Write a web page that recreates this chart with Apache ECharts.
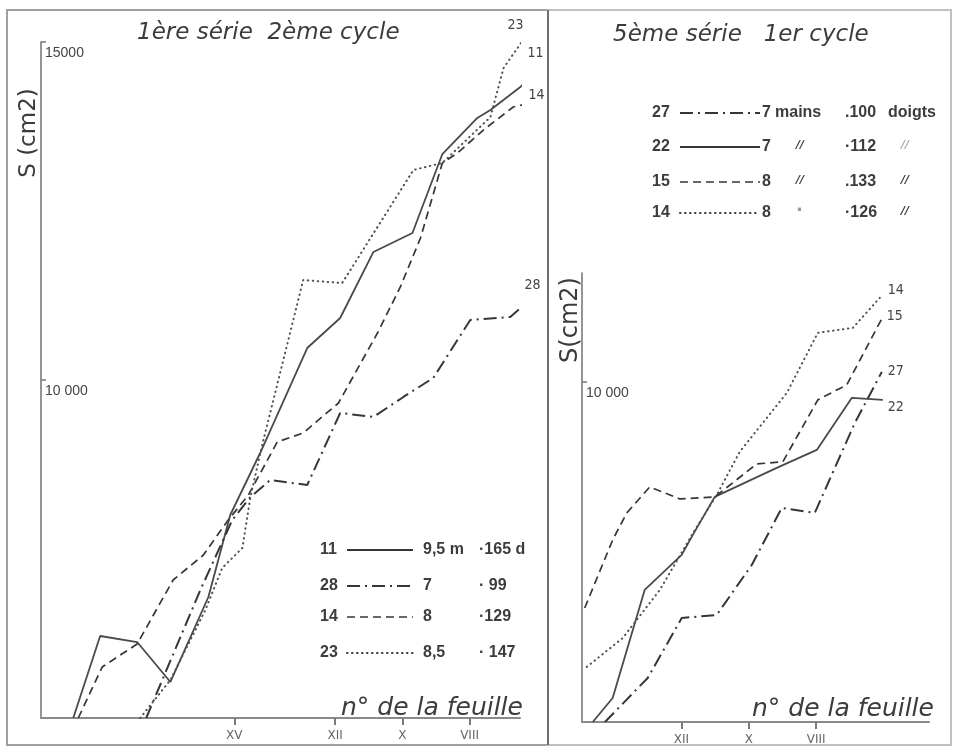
<!DOCTYPE html>
<html><head><meta charset="utf-8">
<script src="https://cdn.jsdelivr.net/npm/echarts@6/dist/echarts.min.js"></script>
<style>html,body{margin:0;padding:0;background:#fff}#c{width:954px;height:750px}</style>
</head><body><div id="c"></div>
<script>
// ---- DATA (x = n° de la feuille, y = S in cm2) ----
// Left panel: 1ère série 2ème cycle
const leftS11 = [[19.79,5000],[18.99,6213],[17.89,6124],[16.90,5533],[15.77,6790],[15.12,8003],[14.23,8920],[12.83,10473],[11.85,10917],[10.86,11894],[9.70,12175],[8.81,13343],[7.77,13876],[7.38,13994],[6.49,14334],[5.83,14689]];
const leftS28 = [[17.62,5000],[16.01,6893],[15.06,7929],[14.52,8269],[13.93,8521],[12.83,8447],[11.85,9512],[10.86,9453],[9.97,9749],[9.08,10030],[7.98,10888],[6.79,10932],[6.10,11228]];
const leftS14 = [[19.64,5000],[18.93,5754],[17.89,6095],[16.82,7041],[15.92,7411],[15.18,7929],[14.58,8299],[13.72,9083],[12.95,9216],[11.90,9660],[10.74,10695],[10.06,11376],[9.46,12101],[8.81,13210],[8.36,13358],[7.59,13698],[6.70,14039],[6.04,14113]];
const leftS23 = [[17.80,5000],[16.90,5562],[15.86,6598],[15.36,7219],[14.76,7515],[14.52,8269],[14.17,9039],[13.54,10296],[12.95,11479],[11.79,11435],[9.67,13107],[8.81,13210],[7.38,13890],[6.99,14615],[5.95,15355]];
// Right panel: 5ème série 1er cycle
const rightS27 = [[14.27,5000],[13.00,5647],[11.99,6529],[10.95,6574],[9.91,7309],[9.02,8147],[8.04,8074],[6.85,9397],[6.05,10147]];
const rightS22 = [[14.63,5000],[14.04,5353],[13.09,6941],[11.99,7456],[11.66,7750],[11.01,8309],[10.06,8529],[9.17,8735],[7.98,9000],[6.94,9765],[6.02,9735]];
const rightS15 = [[14.87,6676],[14.04,7676],[13.62,8074],[12.94,8456],[12.05,8279],[11.01,8309],[9.76,8794],[8.99,8824],[7.95,9735],[7.09,9956],[6.02,10956]];
const rightS14 = [[14.81,5809],[13.74,6235],[12.64,6941],[11.60,7824],[10.95,8338],[10.27,8971],[8.87,9838],[7.95,10721],[6.91,10794],[6.11,11235]];
// Tick values and labels
const leftXTicks = [15,12,10,8];
const rightXTicks = [12,10,8];
const romanLabels = {15:'XV',12:'XII',10:'X',8:'VIII'};
const leftYTicks = [10000,15000];
const leftYLabels = {10000:'10 000',15000:'15000'};
const rightYTicks = [10000];
const rightYLabels = {10000:'10 000'};
// Legend texts
const leftLegend = [['11','9,5 m','·165 d'],['28','7','· 99'],['14','8','·129'],['23','8,5','· 147']];
const rightLegend = [['27','7','mains','.100','doigts'],['22','7','//','·112','//'],['15','8','//','.133','//'],['14','8','·','·126','//']];

// ---- STYLES ----
const INK = '#363636';
const SOLID = {type:'solid', width:1.8, color:'#4a4a4a'};
const DASH = {type:[8,5], width:1.7, color:INK};
const DOT = {type:[0.5,4.5], width:2, cap:'round', color:'#505050'};
const DASHDOT = {type:[13,5,2,5], width:2, color:INK};
const lblFont = '"Liberation Sans Narrow","DejaVu Sans Condensed","Liberation Sans",sans-serif';

function ser(name, data, gi, ls, lab) {
  return {
    name, type:'line', xAxisIndex:gi, yAxisIndex:gi, data,
    showSymbol:false, clip:false, silent:true, lineStyle:ls,
    endLabel: Object.assign({show:true, formatter:'{a}', color:'#444', fontSize:14, fontFamily:lblFont, distance:0}, lab)
  };
}

function xAxisCfg(gi, min, max, ticks) {
  return {
    gridIndex:gi, type:'value', inverse:true, min, max,
    axisLine:{show:true, onZero:false, lineStyle:{color:'#8a8a8a', width:2}},
    axisTick:{show:true, customValues:ticks, length:7, lineStyle:{color:'#7a7a7a', width:2}},
    axisLabel:{show:true, customValues:ticks, formatter:v=>romanLabels[v]||'', color:'#666', fontSize:12, margin:12, fontFamily:'"DejaVu Sans",sans-serif'},
    splitLine:{show:false}
  };
}
function yAxisCfg(gi, min, max, ticks, labels) {
  return {
    gridIndex:gi, type:'value', min, max,
    axisLine:{show:true, onZero:false, lineStyle:{color:'#7a7a7a', width:1.6}},
    axisTick:{show:true, inside:true, customValues:ticks, length:5, lineStyle:{color:'#777', width:1.5}},
    axisLabel:{show:true, inside:true, customValues:ticks, formatter:v=>labels[v]||'', color:'#444', fontSize:14, margin:4, verticalAlign:'top', padding:[4,0,0,0], fontFamily:'"Liberation Sans",sans-serif'},
    splitLine:{show:false}
  };
}

// ---- GRAPHIC (frame, titles, legends) ----
const graphics = [];
graphics.push({type:'rect', shape:{x:7,y:10,width:541,height:735}, style:{fill:'none', stroke:'#a0a0a0', lineWidth:2}, silent:true});
graphics.push({type:'rect', shape:{x:548,y:10,width:403,height:735}, style:{fill:'none', stroke:'#c0c0c0', lineWidth:2}, silent:true});
graphics.push({type:'line', shape:{x1:548,y1:10,x2:548,y2:745}, style:{stroke:'#555', lineWidth:1.5}, silent:true});
const titleFont = '"DejaVu Sans",sans-serif';
function txt(text, x, y, size, opts) {
  graphics.push(Object.assign({type:'text', x, y, silent:true, style:Object.assign({text, fill:'#3c3c3c', font:size}, opts||{})}));
}
txt('1ère série  2ème cycle', 137, 33, 'italic 23px '+titleFont, {verticalAlign:'middle'});
txt('5ème série   1er cycle', 613, 35, 'italic 23px '+titleFont, {verticalAlign:'middle'});
txt('n° de la feuille', 341, 708, 'italic 25px '+titleFont, {verticalAlign:'middle'});
txt('n° de la feuille', 752, 709, 'italic 25px '+titleFont, {verticalAlign:'middle'});
graphics.push({type:'text', x:29, y:133, rotation:Math.PI/2, silent:true, style:{text:'S (cm2)', font:'23px '+titleFont, fill:'#3c3c3c', align:'center', verticalAlign:'middle'}});
graphics.push({type:'text', x:571, y:320, rotation:Math.PI/2, silent:true, style:{text:'S(cm2)', font:'24px '+titleFont, fill:'#3c3c3c', align:'center', verticalAlign:'middle'}});

const legFont = 'bold 16px "Liberation Sans",sans-serif';
const markFont = 'italic bold 11px "DejaVu Sans",sans-serif';
const leftRowsY = [550,586,617,653];
const leftStyles = [SOLID, DASHDOT, DASH, DOT];
leftLegend.forEach((r,i)=>{
  const y = leftRowsY[i];
  txt(r[0], 320, y, legFont, {verticalAlign:'middle'});
  const ls = leftStyles[i];
  graphics.push({type:'line', silent:true, shape:{x1:347,y1:y,x2:413,y2:y}, style:{stroke:INK, lineWidth:ls.width, lineDash:ls.type==='solid'?null:ls.type, lineCap:ls.cap||'butt'}});
  txt(r[1], 423, y, legFont, {verticalAlign:'middle'});
  txt(r[2], 479, y, legFont, {verticalAlign:'middle'});
});
const rightRowsY = [113,147,182,213];
const rightStyles = [DASHDOT, SOLID, DASH, DOT];
rightLegend.forEach((r,i)=>{
  const y = rightRowsY[i];
  txt(r[0], 652, y, legFont, {verticalAlign:'middle'});
  const ls = rightStyles[i];
  graphics.push({type:'line', silent:true, shape:{x1:680,y1:y,x2:760,y2:y}, style:{stroke:INK, lineWidth:ls.width, lineDash:ls.type==='solid'?null:ls.type, lineCap:ls.cap||'butt'}});
  txt(r[1], 762, y, legFont, {verticalAlign:'middle'});
  if (i===0) txt(r[2], 775, y, legFont, {verticalAlign:'middle'});
  else txt(r[2], 796, y-2, i===3 ? 'bold 18px "DejaVu Sans",sans-serif' : markFont, {verticalAlign:'middle', fill: i===3?'#999':'#3c3c3c'});
  txt(r[3], 845, y, legFont, {verticalAlign:'middle'});
  if (i===0) txt(r[4], 888, y, legFont, {verticalAlign:'middle'});
  else txt(r[4], 901, y-2, markFont, {verticalAlign:'middle', fill: i===1?'#aaa':'#3c3c3c'});
});

const option = {
  animation:false,
  backgroundColor:'#fff',
  grid:[
    {left:41, top:42, width:479, height:676, outerBoundsMode:'none', containLabel:false},
    {left:582, top:273, width:347, height:449, outerBoundsMode:'none', containLabel:false}
  ],
  xAxis:[ xAxisCfg(0, 6.5, 20.75, leftXTicks), xAxisCfg(1, 4.65, 14.95, rightXTicks) ],
  yAxis:[ yAxisCfg(0, 5000, 15000, leftYTicks, leftYLabels), yAxisCfg(1, 5000, 11600, rightYTicks, rightYLabels) ],
  series:[
    ser('11', leftS11, 0, SOLID, {align:'center', verticalAlign:'bottom', padding:[0,14,3,0]}),
    ser('28', leftS28, 0, DASHDOT, {align:'center', verticalAlign:'bottom', padding:[0,2,5,0]}),
    ser('14', leftS14, 0, DASH, {align:'center', verticalAlign:'bottom', padding:[0,0,0,2]}),
    ser('23', leftS23, 0, DOT, {align:'right', verticalAlign:'top', padding:[0,15,0,0]}),
    ser('27', rightS27, 1, DASHDOT, {align:'left', verticalAlign:'middle', padding:[0,0,4,6]}),
    ser('22', rightS22, 1, SOLID, {align:'left', verticalAlign:'top', padding:[0,0,0,5]}),
    ser('15', rightS15, 1, DASH, {align:'left', verticalAlign:'middle', padding:[0,0,4,4]}),
    ser('14', rightS14, 1, DOT, {align:'left', verticalAlign:'bottom', padding:[0,0,0,8]})
  ],
  graphic:graphics
};
const chart = echarts.init(document.getElementById('c'), null, {renderer:'canvas'});
chart.setOption(option);
</script>
</body></html>
